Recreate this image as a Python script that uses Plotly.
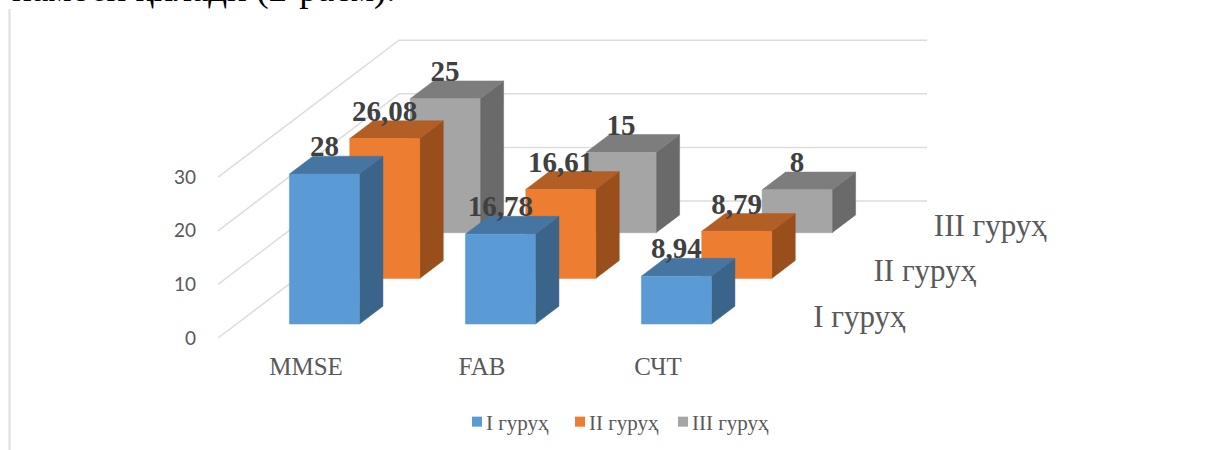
import plotly.graph_objects as go

# ---- data ----
categories = ["MMSE", "FAB", "СЧТ"]
series_names = ["I гуруҳ", "II гуруҳ", "III гуруҳ"]
group_1 = [28, 16.78, 8.94]
group_2 = [26.08, 16.61, 8.79]
group_3 = [25, 15, 8]
value_ticks = [0, 10, 20, 30]

# ---- style ----
front_colors = ["#5B9BD5", "#ED7D31", "#A5A5A5"]
top_colors = ["#4675A1", "#B25E24", "#7D7D7D"]
side_colors = ["#3A6489", "#984F1C", "#6A6A6A"]
grid_color = "#DDDDDD"
text_color = "#595959"
label_color = "#404040"
serif = "Liberation Serif"

# ---- layout of the oblique 3D frame ----
W, H = 1213, 450
px_per_cat = 176.0
px_per_val = 5.36
origin_px = (306.0, 338.0)
depth_px = (181.0, 137.0)
bar_half = 35.0 / px_per_cat
bar_depth = 0.13

x_range = [-origin_px[0] / px_per_cat, (W - origin_px[0]) / px_per_cat]
y_range = [-(H - origin_px[1]) / px_per_val, origin_px[1] / px_per_val]


def proj(i, d, v):
    return i + d * depth_px[0] / px_per_cat, v + d * depth_px[1] / px_per_val


def poly(points):
    xy = [proj(*p) for p in points]
    return [a for a, _ in xy] + [xy[0][0]], [b for _, b in xy] + [xy[0][1]]


def face(points, color):
    xs, ys = poly(points)
    return go.Scatter(x=xs, y=ys, mode="lines", fill="toself", fillcolor=color,
                      line=dict(color=color, width=0.5), hoverinfo="skip", showlegend=False)


fig = go.Figure()

# walls / gridlines
for v in value_ticks:
    pts = [proj(-0.5, 0, v), proj(-0.5, 1, v), proj(2.5, 1, v)]
    fig.add_trace(go.Scatter(x=[p[0] for p in pts], y=[p[1] for p in pts], mode="lines",
                             line=dict(color=grid_color, width=1.5), hoverinfo="skip", showlegend=False))

# bars, back row first
rows = [group_1, group_2, group_3]
for s in [2, 1, 0]:
    centre = (s + 0.5) / 3
    d0, d1 = centre - bar_depth / 2, centre + bar_depth / 2
    for i, v in enumerate(rows[s]):
        l, r = i - bar_half, i + bar_half
        fig.add_trace(face([(r, d0, 0), (r, d1, 0), (r, d1, v), (r, d0, v)], side_colors[s]))
        fig.add_trace(face([(l, d0, v), (r, d0, v), (r, d1, v), (l, d1, v)], top_colors[s]))
        fig.add_trace(face([(l, d0, 0), (r, d0, 0), (r, d0, v), (l, d0, v)], front_colors[s]))

# value labels
label_lift = 25 / px_per_val
for s in [2, 1, 0]:
    centre = (s + 0.5) / 3
    d0 = centre - bar_depth / 2
    pts = [proj(i, d0, v) for i, v in enumerate(rows[s])]
    fig.add_trace(go.Scatter(
        x=[p[0] for p in pts], y=[p[1] + label_lift for p in pts], mode="text",
        text=[str(v).replace(".", ",") for v in rows[s]], textposition="middle center",
        textfont=dict(family=serif, size=29, color=label_color, weight="bold"),
        hoverinfo="skip", showlegend=False, cliponaxis=False))

# depth axis labels
for s, name in enumerate(series_names):
    x, y = proj(2.5, (s + 0.5) / 3, 0)
    fig.add_trace(go.Scatter(
        x=[x + 37 / px_per_cat], y=[y - 4 / px_per_val], mode="text", text=[name],
        textposition="middle right", textfont=dict(family=serif, size=31, color=text_color),
        hoverinfo="skip", showlegend=False, cliponaxis=False))

# legend entries
for s, name in enumerate(series_names):
    fig.add_trace(go.Scatter(x=[None], y=[None], mode="markers", name=name,
                             marker=dict(symbol="square", size=10, color=front_colors[s])))

fig.update_layout(
    width=W, height=H, margin=dict(l=0, r=0, t=0, b=0),
    paper_bgcolor="white", plot_bgcolor="white",
    showlegend=True,
    legend=dict(orientation="h", x=457 / W, xanchor="left", y=(H - 422) / H, yanchor="middle",
                font=dict(family=serif, size=21, color=text_color),
                entrywidth=58, entrywidthmode="pixels", itemclick=False, itemdoubleclick=False,
                bgcolor="rgba(0,0,0,0)"),
    xaxis=dict(range=x_range, tickvals=list(range(len(categories))), ticktext=categories,
               anchor="free", position=(H - 349) / H, showgrid=False, zeroline=False, showline=False,
               ticks="", tickfont=dict(family=serif, size=25, color=text_color), fixedrange=True),
    yaxis=dict(range=y_range, tickvals=value_ticks, anchor="free", position=196 / W,
               showgrid=False, zeroline=False, showline=False, ticks="",
               tickfont=dict(family="Lato", size=19, color=text_color), fixedrange=True),
    shapes=[dict(type="line", xref="paper", yref="paper", x0=9.5 / W, x1=9.5 / W,
                 y0=0, y1=(H - 9) / H, line=dict(color="#DEDEDE", width=2))],
    annotations=[dict(text="намоён қилади (2-расм).", xref="paper", yref="paper",
                      x=10 / W, y=(H - 12) / H, xanchor="left", yanchor="bottom", showarrow=False,
                      font=dict(family=serif, size=37, color="#000000"))],
)

fig.write_html("out.html", config={"displayModeBar": False},
               post_script="document.body.style.margin='0';document.body.style.overflow='hidden';"
                           "document.querySelectorAll('.legendtext').forEach(function(t){"
                           "t.setAttribute('x',parseFloat(t.getAttribute('x'))-11);});"
                           "document.querySelectorAll('.legend .scrollbox').forEach(function(b){"
                           "b.removeAttribute('clip-path');b.style.clipPath='none';});"
                           "document.querySelectorAll('.legend').forEach(function(b){"
                           "b.style.overflow='visible';});")
